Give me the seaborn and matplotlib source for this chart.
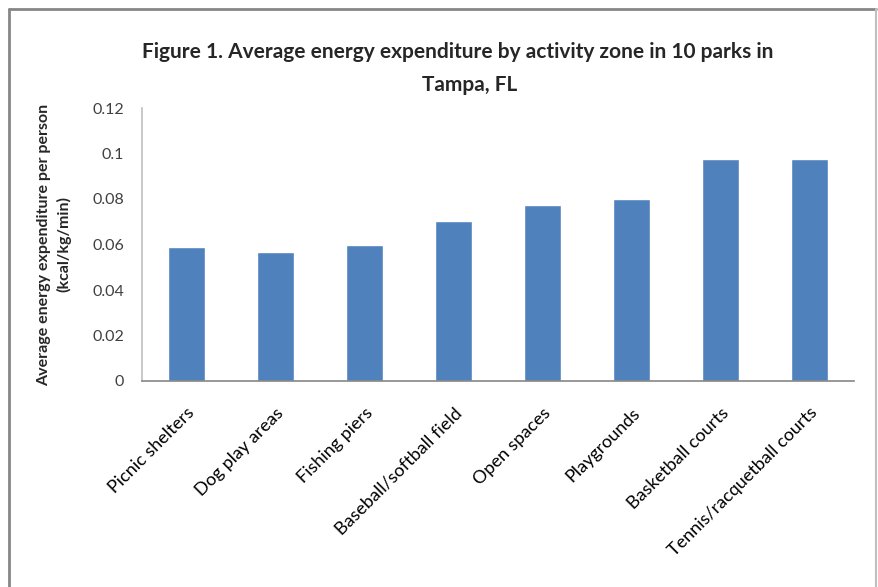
import matplotlib
matplotlib.use("Agg")
import matplotlib.pyplot as plt
import seaborn as sns
import pandas as pd

zones = [
    "Picnic shelters",
    "Dog play areas",
    "Fishing piers",
    "Baseball/softball field",
    "Open spaces",
    "Playgrounds",
    "Basketball courts",
    "Tennis/racquetball courts",
]
energy = [0.0589, 0.0567, 0.0598, 0.0703, 0.0774, 0.0800, 0.0976, 0.0976]
yticks = [0, 0.02, 0.04, 0.06, 0.08, 0.1, 0.12]
ytick_labels = ["0", "0.02", "0.04", "0.06", "0.08", "0.1", "0.12"]

df = pd.DataFrame({"zone": zones, "energy": energy})

sns.set_theme(style="white")
plt.rcParams["font.family"] = ["Lato", "DejaVu Sans"]

W, H = 879, 587
fig = plt.figure(figsize=(W / 100, H / 100), dpi=100)
ax = fig.add_axes([142 / W, 1 - 381 / H, (854 - 142) / W, (381 - 108) / H])

sns.barplot(data=df, x="zone", y="energy", color="#4F81BD", saturation=1,
            width=0.42, ax=ax)

ax.set_ylim(0, 0.12)
ax.set_xlim(-0.5, len(zones) - 0.5)
ax.set_yticks(yticks)
ax.set_yticklabels(ytick_labels, fontsize=11.5, color="#404040")
ax.set_xticks(range(len(zones)))
ax.set_xticklabels(zones, rotation=45, ha="right", rotation_mode="anchor",
                   fontsize=13, color="#000000")
ax.tick_params(axis="y", length=0, pad=13)
ax.tick_params(axis="x", length=0, pad=17)
ax.set_xlabel("")
ax.set_ylabel("Average energy expenditure per person\n(kcal/kg/min)",
              fontsize=11.5, fontweight="bold", labelpad=15, linespacing=1.45)

for side in ("top", "right"):
    ax.spines[side].set_visible(False)
ax.spines["left"].set_color("#bfbfbf")
ax.spines["left"].set_linewidth(1.2)
ax.spines["bottom"].set_color("#868686")
ax.spines["bottom"].set_linewidth(1.2)

fig.text(458 / W, 1 - 52 / H,
         "Figure 1. Average energy expenditure by activity zone in 10 parks in",
         ha="center", va="center", fontsize=15, fontweight="bold")
fig.text(470 / W, 1 - 85 / H, "Tampa, FL",
         ha="center", va="center", fontsize=15, fontweight="bold")

# chart frame (open at the bottom)
fig.add_artist(plt.Line2D([9 / W, 9 / W], [0, 1 - 9 / H], transform=fig.transFigure,
                          color="#868686", lw=2))
fig.add_artist(plt.Line2D([9 / W, 876 / W], [1 - 9 / H, 1 - 9 / H],
                          transform=fig.transFigure, color="#868686", lw=2))
fig.add_artist(plt.Line2D([876 / W, 876 / W], [0, 1 - 9 / H], transform=fig.transFigure,
                          color="#bfbfbf", lw=1.5))

fig.savefig("out.png", dpi=100, facecolor="white")
